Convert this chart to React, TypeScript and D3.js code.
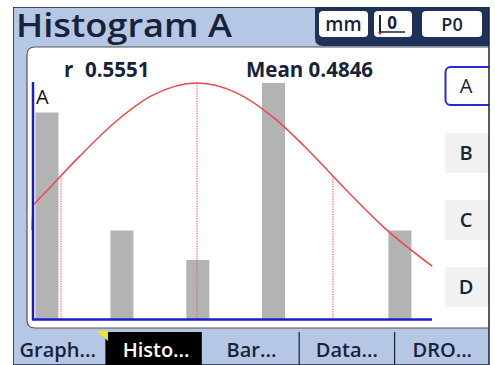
import React from 'react'
import * as d3 from 'd3'

// histogram values
const binCenters = [-0.128, 0.178, 0.488, 0.797, 1.313]
const counts = [7, 3, 2, 8, 3]
const binWidth = 0.094

const meanValue = 0.4846
const rValue = 0.5551

// fitted curve, points (value, count)
const curveX = [-0.185, -0.15, 0.0, 0.15, 0.3, 0.4846, 0.65, 0.8, 0.95, 1.1, 1.25, 1.445]
const curveY = [3.86, 4.16, 5.47, 6.67, 7.57, 8.0, 7.65, 6.81, 5.63, 4.32, 3.09, 1.79]

const tabs = ['Graph...', 'Histo...', 'Bar...', 'Data...', 'DRO...']
const activeTab = 1
const sideButtons = ['A', 'B', 'C', 'D']

const bg = '#b6c7e5'
const navy = '#16233a'
const font = "'Open Sans', sans-serif"

function App() {
    const x = d3.scaleLinear().domain([-0.185, 1.444]).range([33, 432])
    const y = d3.scaleLinear().domain([0, 8]).range([319, 83])

    const curvePts: [number, number][] = curveX.map((v, i) => [x(v), y(curveY[i])])
    const curvePath = d3.line().curve(d3.curveMonotoneX)(curvePts)

    // height of the curve at a given x, for the dotted drops
    const curveAt = (v: number) => {
        const i = d3.bisectLeft(curveX, v)
        if (curveX[i] === v) return curveY[i]
        const t = (v - curveX[i - 1]) / (curveX[i] - curveX[i - 1])
        return curveY[i - 1] + t * (curveY[i] - curveY[i - 1])
    }
    const drops = [meanValue - rValue, meanValue, meanValue + rValue]

    const tabX = d3.scaleBand().domain(tabs).range([13, 490])

    return (
        <svg width={495} height={365} style={{ position: 'absolute', left: 0, top: 0, background: 'white' }} fontFamily={font}>
            <defs>
                <clipPath id="screen"><rect x={13} y={7} width={476} height={358} /></clipPath>
            </defs>
            <g clipPath="url(#screen)">
                {/* screen */}
                <rect x={13} y={7} width={477} height={358} fill={bg} stroke={navy} strokeWidth={1.5} />
                <text x={16} y={37} fontSize={33} fontWeight={600} fill={navy} textLength={216} lengthAdjust="spacingAndGlyphs">Histogram A</text>

                {/* header badges */}
                <path d="M315,7 H490 V46 H323 Q315,46 315,38 Z" fill="#1d3159" />
                <rect x={319} y={11} width={49} height={26} rx={4} fill="white" />
                <text x={343.5} y={31} fontSize={19} fontWeight={600} fill={navy} textAnchor="middle">mm</text>
                <rect x={374} y={11} width={38} height={26} rx={4} fill="white" />
                <line x1={380} y1={15} x2={380} y2={33} stroke={navy} strokeWidth={2} />
                <text x={392} y={29} fontSize={17} fontWeight={700} fill={navy} textAnchor="middle">0</text>
                <line x1={380} y1={32} x2={405} y2={32} stroke={navy} strokeWidth={1.5} />
                <path d="M378,32 L382,32 L380,35 Z" fill="#c02020" />
                <rect x={422} y={11} width={60} height={26} rx={4} fill="white" />
                <text x={452} y={31} fontSize={18} fontWeight={600} fill={navy} textAnchor="middle">P0</text>

                {/* main panel */}
                <path d="M496,47 H35 Q27,47 27,55 V320 Q27,328 35,328 H496" fill="white" stroke="#555" strokeWidth={1.2} />

                <text x={64} y={77} fontSize={20.5} fontWeight={700} fill={navy}>r</text>
                <text x={85} y={77} fontSize={20.5} fontWeight={700} fill={navy}>{rValue.toFixed(4)}</text>
                <text x={246} y={77} fontSize={20.5} fontWeight={700} fill={navy}>{'Mean ' + meanValue.toFixed(4)}</text>

                {/* bars */}
                {binCenters.map((c, i) => (
                    <rect key={i} x={x(c - binWidth / 2)} y={y(counts[i])} width={x(c + binWidth / 2) - x(c - binWidth / 2)}
                        height={y(0) - y(counts[i])} fill="#b3b3b3" />
                ))}

                {/* dotted drops */}
                {drops.map((v, i) => (
                    <line key={i} x1={x(v)} x2={x(v)} y1={y(curveAt(v))} y2={y(0)} stroke="#ee5c5c" strokeWidth={1} strokeDasharray="1.5,1" />
                ))}

                <path d={curvePath || ''} fill="none" stroke="#ec4848" strokeWidth={1.5} />
                <line x1={33} y1={y(curveY[0])} x2={32} y2={230} stroke="#ec4848" strokeWidth={1.5} />

                {/* axes */}
                <line x1={33} y1={82} x2={33} y2={320} stroke="#1c1ccf" strokeWidth={2.5} />
                <line x1={32} y1={319.5} x2={432} y2={319.5} stroke="#1c1ccf" strokeWidth={2.5} />
                <text x={36} y={104} fontSize={20} fill="#111">A</text>

                {/* side buttons */}
                {sideButtons.map((b, i) => {
                    const cy = 86 + i * 67
                    return (
                        <g key={b}>
                            {i === 0
                                ? <rect x={445.5} y={cy - 19} width={48} height={38} rx={5} fill="white" stroke="#2a2ad0" strokeWidth={2} />
                                : <rect x={445} y={cy - 20} width={44} height={40} fill="#f1f1f1" />}
                            <text x={466} y={cy + 7} fontSize={20} fontWeight={i === 0 ? 400 : 600} fill={navy} textAnchor="middle">{b}</text>
                        </g>
                    )
                })}

                {/* bottom tabs */}
                {tabs.map((t, i) => (
                    <g key={t}>
                        {i === activeTab && <rect x={tabX(t)! - 3} y={332} width={tabX.bandwidth() + 1} height={33} fill="black" />}
                        {i > activeTab + 1 && <line x1={tabX(t)} x2={tabX(t)} y1={332} y2={365} stroke={navy} strokeWidth={1.2} />}
                        <text x={tabX(t)! + tabX.bandwidth() / 2 - (i === 0 ? 3 : 0)} y={357} fontSize={20} fontWeight={600}
                            fill={i === activeTab ? 'white' : navy} textAnchor="middle">{t}</text>
                    </g>
                ))}
                <path d="M97,331 L108,331 L108,341 Z" fill="#f4e41c" />
            </g>
            <line x1={489} y1={7} x2={489} y2={365} stroke={navy} strokeWidth={1.5} />
        </svg>
    )
}

export default App
